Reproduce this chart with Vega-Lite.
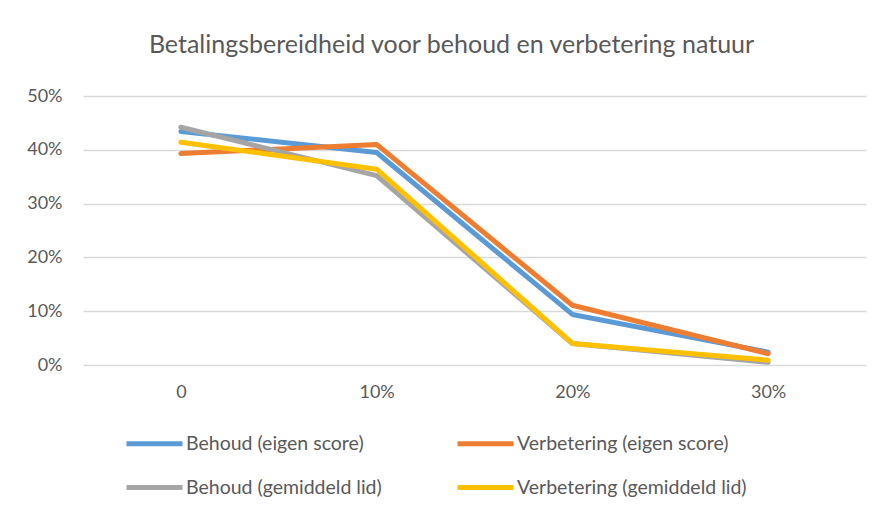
{
  "$schema": "https://vega.github.io/schema/vega-lite/v6.json",
  "width": 783,
  "height": 269,
  "autosize": {"type": "none"},
  "padding": {"left": 83, "top": 96, "right": 15, "bottom": 151},
  "background": "white",
  "title": {
    "text": "Betalingsbereidheid voor behoud en verbetering natuur",
    "font": "Lato",
    "fontSize": 25,
    "fontWeight": "normal",
    "color": "#595959",
    "anchor": "middle",
    "baseline": "alphabetic",
    "offset": 9,
    "dx": -23
  },
  "data": {
    "values": [
      {"x": "0", "serie": "Behoud (eigen score)", "v": 0.434},
      {"x": "10%", "serie": "Behoud (eigen score)", "v": 0.395},
      {"x": "20%", "serie": "Behoud (eigen score)", "v": 0.094},
      {"x": "30%", "serie": "Behoud (eigen score)", "v": 0.024},
      {"x": "0", "serie": "Verbetering (eigen score)", "v": 0.393},
      {"x": "10%", "serie": "Verbetering (eigen score)", "v": 0.410},
      {"x": "20%", "serie": "Verbetering (eigen score)", "v": 0.111},
      {"x": "30%", "serie": "Verbetering (eigen score)", "v": 0.021},
      {"x": "0", "serie": "Behoud (gemiddeld lid)", "v": 0.442},
      {"x": "10%", "serie": "Behoud (gemiddeld lid)", "v": 0.352},
      {"x": "20%", "serie": "Behoud (gemiddeld lid)", "v": 0.040},
      {"x": "30%", "serie": "Behoud (gemiddeld lid)", "v": 0.005},
      {"x": "0", "serie": "Verbetering (gemiddeld lid)", "v": 0.414},
      {"x": "10%", "serie": "Verbetering (gemiddeld lid)", "v": 0.364},
      {"x": "20%", "serie": "Verbetering (gemiddeld lid)", "v": 0.040},
      {"x": "30%", "serie": "Verbetering (gemiddeld lid)", "v": 0.009}
    ]
  },
  "mark": {"type": "line", "strokeWidth": 5, "strokeCap": "round", "strokeJoin": "round"},
  "encoding": {
    "x": {
      "field": "x",
      "type": "ordinal",
      "sort": ["0", "10%", "20%", "30%"],
      "scale": {"type": "point", "padding": 0.5},
      "axis": {
        "title": null,
        "labelAngle": 0,
        "domain": false,
        "ticks": false,
        "labelPadding": 18,
        "labelFont": "Lato",
        "labelFontSize": 18,
        "labelColor": "#595959"
      }
    },
    "y": {
      "field": "v",
      "type": "quantitative",
      "scale": {"domain": [0, 0.5], "nice": false},
      "axis": {
        "title": null,
        "format": ".0%",
        "values": [0, 0.1, 0.2, 0.3, 0.4, 0.5],
        "domain": false,
        "ticks": false,
        "labelPadding": 21,
        "labelFont": "Lato",
        "labelFontSize": 18,
        "labelColor": "#595959",
        "gridColor": "#d9d9d9",
        "gridWidth": 1.3
      }
    },
    "color": {
      "field": "serie",
      "type": "nominal",
      "scale": {
        "domain": ["Behoud (eigen score)", "Verbetering (eigen score)", "Behoud (gemiddeld lid)", "Verbetering (gemiddeld lid)"],
        "range": ["#5B9BD5", "#ED7D31", "#A5A5A5", "#FFC000"]
      },
      "legend": {
        "title": null,
        "orient": "none",
        "legendX": 41,
        "legendY": 317,
        "direction": "horizontal",
        "columns": 2,
        "symbolType": "stroke",
        "symbolSize": 3136,
        "symbolStrokeWidth": 5,
        "labelOffset": 1,
        "labelFont": "Lato",
        "labelFontSize": 19.5,
        "labelColor": "#595959",
        "columnPadding": 65,
        "rowPadding": 3,
        "labelLimit": 400
      }
    }
  },
  "config": {"view": {"stroke": null}}
}
